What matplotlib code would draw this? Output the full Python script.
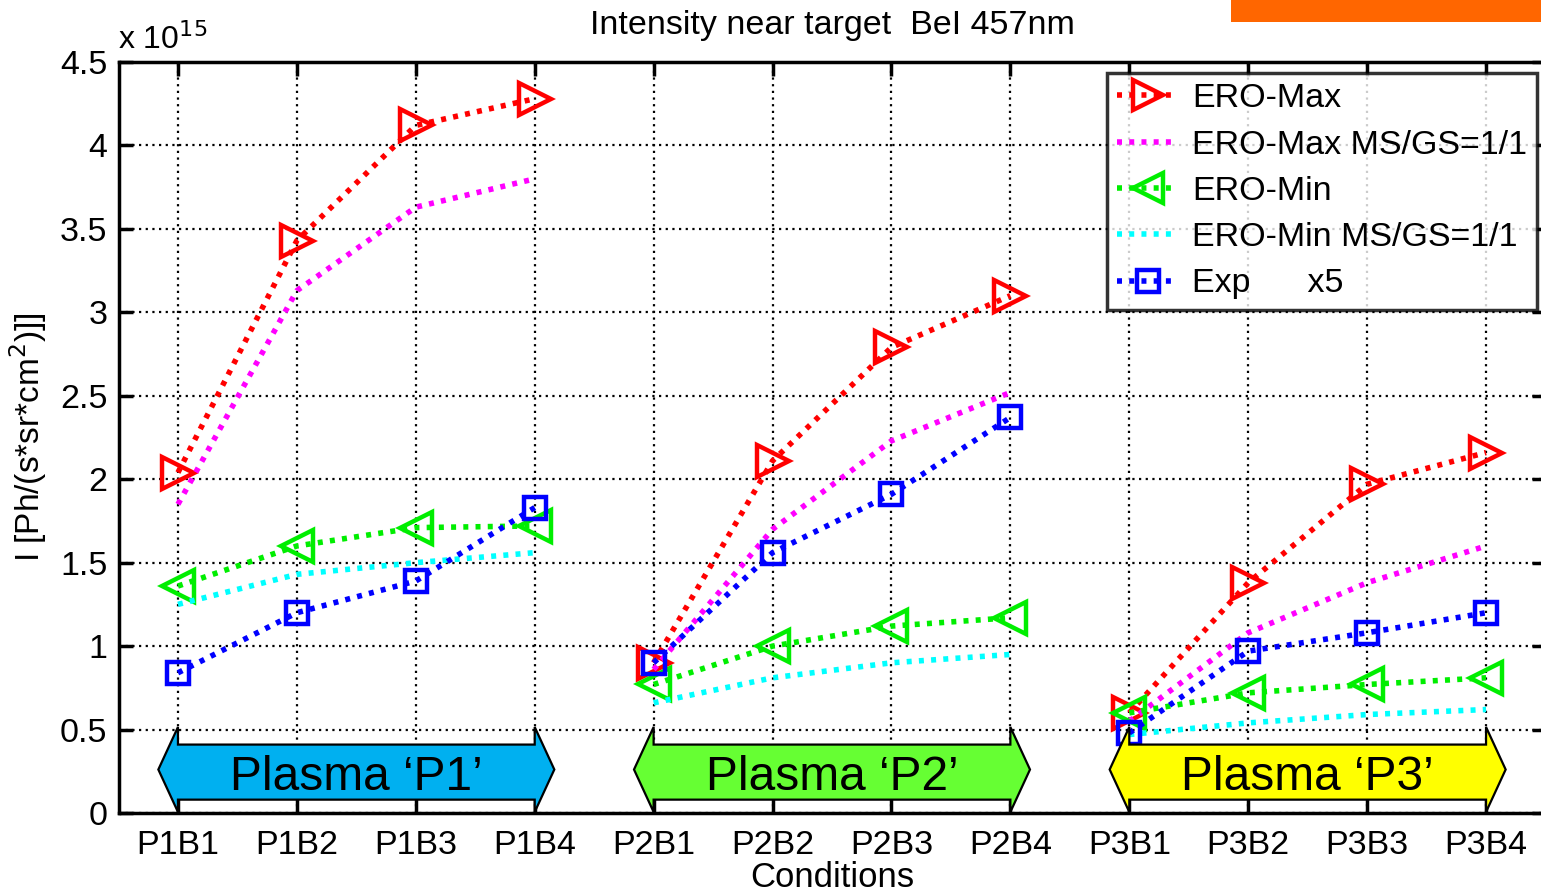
import matplotlib
matplotlib.use("Agg")
import matplotlib.pyplot as plt
from matplotlib.patches import Polygon, Rectangle
from matplotlib.lines import Line2D
import numpy as np

plt.rcParams['font.family'] = ['Liberation Sans', 'DejaVu Sans']

# Conditions along the x axis (three plasmas, four beams each)
conditions = ["P1B1", "P1B2", "P1B3", "P1B4",
              "P2B1", "P2B2", "P2B3", "P2B4",
              "P3B1", "P3B2", "P3B3", "P3B4"]
plasmas = ["Plasma \u2018P1\u2019", "Plasma \u2018P2\u2019", "Plasma \u2018P3\u2019"]
plasma_colors = ["#00B0F0", "#66FF33", "#FFFF00"]

# Intensities in units of 1e15 Ph/(s*sr*cm^2)
ero_max = [2.04, 3.43, 4.12, 4.28,
           0.90, 2.11, 2.79, 3.10,
           0.60, 1.38, 1.97, 2.16]
ero_max_ms = [1.85, 3.13, 3.63, 3.80,
              0.86, 1.70, 2.23, 2.52,
              0.55, 1.08, 1.38, 1.60]
ero_min = [1.36, 1.60, 1.71, 1.72,
           0.77, 1.00, 1.12, 1.17,
           0.60, 0.72, 0.77, 0.81]
ero_min_ms = [1.25, 1.43, 1.50, 1.56,
              0.66, 0.81, 0.90, 0.95,
              0.47, 0.54, 0.59, 0.62]
exp_x5 = [0.84, 1.20, 1.39, 1.83,
          0.90, 1.56, 1.91, 2.37,
          0.48, 0.97, 1.08, 1.20]

W, H = 1541, 893
fig = plt.figure(figsize=(W / 100, H / 100), dpi=100)
ax = fig.add_axes([118.5 / W, 1 - 813 / H, (1545.5 - 118.5) / W, (813 - 62) / H])

x = np.arange(len(conditions))
dots = (0, (0.9, 1.3))
series = [
    (ero_max, "#FF0000", ">", "ERO-Max"),
    (ero_max_ms, "#FF00FF", None, "ERO-Max MS/GS=1/1"),
    (ero_min, "#00EE00", "<", "ERO-Min"),
    (ero_min_ms, "#00FFFF", None, "ERO-Min MS/GS=1/1"),
    (exp_x5, "#0000FF", "s", "Exp      x5"),
]

handles = []
for vals, col, mk, lab in series:
    vals = np.asarray(vals)
    ms = 16 if mk == "s" else 23
    for g in range(3):
        sl = slice(4 * g, 4 * g + 4)
        ax.plot(x[sl], vals[sl], color=col, lw=4.0, linestyle=dots,
                marker=mk, markersize=ms, markerfacecolor="none",
                markeredgecolor=col, markeredgewidth=3.2, zorder=4)
    handles.append(Line2D([], [], color=col, lw=4.0, linestyle=dots,
                          marker=mk, markersize=ms * 0.95,
                          markerfacecolor="none", markeredgecolor=col,
                          markeredgewidth=3.2, label=lab))

ax.set_xlim(-0.5, 11.5)
ax.set_ylim(0, 4.5)
ax.set_xticks(x)
ax.set_xticklabels(conditions)
ax.set_yticks(np.arange(0, 4.51, 0.5))
ax.set_yticklabels(["0", "0.5", "1", "1.5", "2", "2.5", "3", "3.5", "4", "4.5"])
ax.tick_params(axis="both", direction="in", length=10, width=2.5,
               labelsize=24.5, top=True, right=True, pad=8)
ax.tick_params(axis="x", pad=12)
ax.grid(True, color="black", linestyle=(0, (1, 2)), linewidth=1.6)
for s in ax.spines.values():
    s.set_linewidth(2.5)

ax.set_xlabel("Conditions", fontsize=25, labelpad=0)
ax.set_ylabel("I [Ph/(s*sr*cm$^2$)]]", fontsize=24, labelpad=8)
ax.set_title("Intensity near target  BeI 457nm", fontsize=24.5, pad=20, x=0.5)
fig.text(118 / W, 1 - 40 / H, "x 10$^{15}$", fontsize=23, va="center", ha="left")

# Double-headed arrows marking each plasma
body_lo, body_hi = 0.08, 0.41
head_lo, head_hi = 0.006, 0.515
head_len = 0.165
for g in range(3):
    x0, x1 = 4 * g, 4 * g + 3
    pts = [(x0 - head_len, (head_lo + head_hi) / 2), (x0, head_hi), (x0, body_hi),
           (x1, body_hi), (x1, head_hi), (x1 + head_len, (head_lo + head_hi) / 2),
           (x1, head_lo), (x1, body_lo), (x0, body_lo), (x0, head_lo)]
    ax.add_patch(Polygon(pts, closed=True, facecolor=plasma_colors[g],
                         edgecolor="black", lw=1.6, zorder=5))
    ax.text((x0 + x1) / 2, (body_lo + body_hi) / 2 - 0.03, plasmas[g],
            fontsize=34.5, ha="center", va="center", zorder=6)

leg = ax.legend(handles=handles, loc="upper right", fontsize=24.5,
                bbox_to_anchor=((1537 - 118.5) / (1545.5 - 118.5), (813 - 73) / (813 - 62)),
                frameon=True, fancybox=False, edgecolor="black",
                handlelength=1.8, handletextpad=0.4, labelspacing=0.45,
                borderpad=0.3, borderaxespad=0)
leg.get_frame().set_linewidth(2.5)
leg.set_zorder(7)

# Orange banner at the top right corner
fig.add_artist(Rectangle((1231 / W, 1 - 22 / H), (W - 1231) / W, 22 / H,
                         transform=fig.transFigure, facecolor="#FF6600",
                         edgecolor="none"))

fig.savefig("out.png", dpi=100)
